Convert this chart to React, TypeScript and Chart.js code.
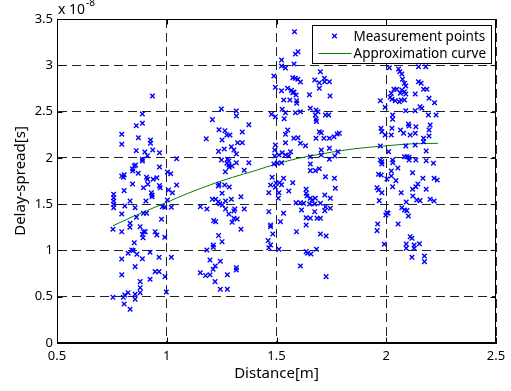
import { useEffect, useRef } from "react";
import { Chart, registerables } from "chart.js";

Chart.register(...registerables);

// ---- Axis / label data ----
const X_TICKS = [0.5, 1, 1.5, 2, 2.5];
const Y_TICKS = [0, 0.5, 1, 1.5, 2, 2.5, 3, 3.5];
const Y_EXPONENT = "-8"; // y values are shown in units of 10^-8 s
const X_TITLE = "Distance[m]";
const Y_TITLE = "Delay-spread[s]";
const POINTS_LABEL = "Measurement points";
const CURVE_LABEL = "Approximation curve";

// ---- Measurement points: [distance m, delay spread x1e-8 s] ----
const groupNear08Upper: [number, number][] = [
  [0.935, 2.668], [0.889, 2.474], [0.861, 2.348], [0.889, 2.373], [0.795, 2.254], [0.795, 2.146],
  [0.871, 2.218], [0.926, 2.193], [0.926, 2.157], [0.861, 2.078], [0.9, 2.063], [0.936, 2.085],
  [0.967, 2.056], [0.912, 2.024], [0.889, 1.984], [0.889, 1.966], [1.045, 1.991], [0.967, 1.901],
  [0.852, 1.912], [0.858, 1.923], [0.844, 1.883], [0.845, 1.858], [0.87, 1.833], [1.003, 1.847],
  [1.018, 1.829], [0.795, 1.804], [0.803, 1.79], [0.806, 1.818], [0.908, 1.79], [0.912, 1.768],
  [0.938, 1.768], [0.955, 1.786], [0.844, 1.718], [0.967, 1.7], [0.97, 1.678], [0.914, 1.714],
  [0.894, 1.678], [0.806, 1.646], [0.93, 1.624], [0.933, 1.599], [0.933, 1.581], [1.008, 1.653],
  [1.026, 1.624], [1.045, 1.707], [0.758, 1.606], [0.758, 1.57], [0.758, 1.534], [0.758, 1.498],
  [0.758, 1.462], [0.833, 1.534], [0.905, 1.534], [0.809, 1.48], [0.856, 1.462], [0.98, 1.473],
  [0.991, 1.466], [1.021, 1.466], [1.003, 1.545],
];
const groupNear08Lower: [number, number][] = [
  [0.755, 1.228], [0.795, 1.203], [0.833, 1.293], [0.832, 1.25], [0.862, 1.358], [0.879, 1.257],
  [0.894, 1.203], [0.902, 1.203], [0.889, 1.174], [0.892, 1.138], [0.947, 1.203], [0.955, 1.167],
  [0.991, 1.142], [0.976, 1.336], [0.894, 1.401], [0.908, 1.401], [0.795, 1.394], [0.852, 1.084],
  [0.841, 1.005], [0.847, 0.998], [0.824, 0.969], [0.864, 0.958], [0.795, 0.908], [0.889, 0.911],
  [0.924, 0.98], [0.965, 0.926], [1.021, 0.926], [0.856, 0.825], [0.947, 0.771], [0.965, 0.771],
  [0.992, 0.717], [0.795, 0.738], [0.924, 0.688], [0.879, 0.663], [0.879, 0.598], [0.879, 0.544],
  [0.856, 0.526], [0.824, 0.544], [0.809, 0.519], [0.802, 0.493], [0.755, 0.493], [0.856, 0.472],
  [0.998, 0.551], [0.806, 0.421], [0.833, 0.364],
];
const groupNear13: [number, number][] = [
  [1.249, 2.528], [1.317, 2.506], [1.317, 2.452], [1.208, 2.413], [1.374, 2.358], [1.238, 2.304],
  [1.265, 2.294], [1.344, 2.279], [1.274, 2.247], [1.288, 2.247], [1.18, 2.207], [1.252, 2.193],
  [1.323, 2.164], [1.344, 2.164], [1.294, 2.121], [1.306, 2.085], [1.262, 2.096], [1.236, 2.07],
  [1.317, 2.042], [1.249, 1.977], [1.277, 1.984], [1.283, 1.966], [1.274, 1.941], [1.283, 1.923],
  [1.297, 1.912], [1.317, 1.948], [1.374, 1.948], [1.267, 1.851], [1.285, 1.898], [1.353, 1.865],
  [1.238, 1.714], [1.235, 1.696], [1.264, 1.707], [1.285, 1.685], [1.252, 1.617], [1.338, 1.581],
  [1.208, 1.552], [1.223, 1.552], [1.235, 1.527], [1.242, 1.505], [1.253, 1.491], [1.268, 1.534],
  [1.294, 1.552], [1.153, 1.473], [1.183, 1.448], [1.268, 1.448], [1.31, 1.448], [1.353, 1.448],
  [1.283, 1.394], [1.306, 1.426], [1.306, 1.347], [1.321, 1.34], [1.298, 1.304], [1.214, 1.322],
  [1.223, 1.311], [1.338, 1.228], [1.236, 1.16], [1.252, 1.095], [1.212, 1.059], [1.212, 1.034],
  [1.183, 1.005], [1.197, 0.897], [1.244, 0.882], [1.221, 0.832], [1.211, 0.796], [1.317, 0.814],
  [1.317, 0.789], [1.153, 0.76], [1.177, 0.728], [1.197, 0.738], [1.276, 0.738], [1.22, 0.663],
  [1.244, 0.58], [1.276, 0.58],
];
const groupNear16Upper: [number, number][] = [
  [1.582, 3.363], [1.586, 3.122], [1.598, 3.147], [1.523, 3.057], [1.523, 2.992], [1.541, 2.97],
  [1.58, 3.014], [1.488, 2.884], [1.574, 2.866], [1.586, 2.859], [1.597, 2.848], [1.609, 2.819],
  [1.7, 2.931], [1.674, 2.841], [1.718, 2.859], [1.695, 2.812], [1.719, 2.823], [1.741, 2.823],
  [1.495, 2.762], [1.523, 2.726], [1.55, 2.751], [1.568, 2.729], [1.574, 2.704], [1.58, 2.711],
  [1.561, 2.625], [1.589, 2.679], [1.592, 2.618], [1.592, 2.589], [1.533, 2.625], [1.65, 2.682],
  [1.695, 2.751], [1.744, 2.668], [1.654, 2.535], [1.526, 2.524], [1.541, 2.488], [1.477, 2.47],
  [1.495, 2.445], [1.535, 2.423], [1.586, 2.488], [1.609, 2.499], [1.68, 2.517], [1.689, 2.499],
  [1.677, 2.463], [1.68, 2.416], [1.682, 2.394], [1.723, 2.463], [1.738, 2.463], [1.551, 2.301],
  [1.541, 2.254], [1.541, 2.164], [1.579, 2.211], [1.598, 2.218], [1.609, 2.157], [1.632, 2.131],
  [1.68, 2.211], [1.695, 2.283], [1.704, 2.272], [1.716, 2.211], [1.741, 2.211], [1.762, 2.229],
  [1.776, 2.257], [1.786, 2.265], [1.495, 2.139], [1.492, 2.085], [1.526, 2.056], [1.541, 2.031],
  [1.556, 2.02], [1.492, 2.02], [1.511, 2.031], [1.564, 2.067], [1.704, 2.085], [1.741, 2.103],
  [1.704, 2.031], [1.78, 2.067], [1.766, 2.02],
];
const groupNear16Lower: [number, number][] = [
  [1.488, 1.934], [1.503, 1.941], [1.523, 1.948], [1.654, 2.013], [1.654, 1.934], [1.654, 1.862],
  [1.677, 1.862], [1.695, 1.883], [1.741, 1.984], [1.48, 1.79], [1.532, 1.779], [1.473, 1.707],
  [1.498, 1.725], [1.514, 1.732], [1.523, 1.71], [1.574, 1.732], [1.495, 1.682], [1.465, 1.624],
  [1.511, 1.624], [1.556, 1.642], [1.508, 1.563], [1.635, 1.66], [1.635, 1.617], [1.639, 1.588],
  [1.654, 1.563], [1.677, 1.563], [1.72, 1.599], [1.745, 1.563], [1.764, 1.779], [1.723, 1.797],
  [1.768, 1.671], [1.589, 1.516], [1.609, 1.516], [1.624, 1.509], [1.651, 1.502], [1.674, 1.502],
  [1.662, 1.545], [1.7, 1.509], [1.723, 1.473], [1.72, 1.43], [1.745, 1.455], [1.614, 1.437],
  [1.674, 1.419], [1.465, 1.419], [1.532, 1.401], [1.635, 1.354], [1.654, 1.347], [1.685, 1.347],
  [1.7, 1.347], [1.518, 1.311], [1.635, 1.275], [1.473, 1.275], [1.473, 1.257], [1.591, 1.203],
  [1.483, 1.178], [1.7, 1.178], [1.726, 1.156], [1.462, 1.106], [1.473, 1.059], [1.465, 1.03],
  [1.511, 1.012], [1.635, 0.987], [1.642, 0.969], [1.657, 0.962], [1.682, 1.012], [1.609, 0.832],
  [1.726, 0.717],
];
const groupNear21Upper: [number, number][] = [
  [2.014, 2.974], [2.056, 2.96], [2.062, 2.931], [2.071, 2.906], [2.147, 2.985], [2.18, 2.985],
  [2.074, 2.848], [2.083, 2.805], [2.147, 2.823], [2.159, 2.805], [2.089, 2.776], [2.035, 2.74],
  [2.048, 2.74], [2.071, 2.733], [2.083, 2.715], [2.089, 2.69], [2.17, 2.74], [2.185, 2.74],
  [2.064, 2.697], [2.023, 2.697], [2.018, 2.654], [2.026, 2.632], [2.041, 2.618], [2.068, 2.625],
  [2.083, 2.625], [2.132, 2.69], [2.195, 2.643], [2.22, 2.596], [1.973, 2.618], [1.995, 2.546],
  [2.06, 2.607], [2.154, 2.553], [2.162, 2.535], [2.089, 2.51], [2.132, 2.51], [2.029, 2.463],
  [2.029, 2.416], [2.192, 2.463], [2.227, 2.463], [1.976, 2.319], [1.98, 2.283], [2.026, 2.319],
  [2.065, 2.301], [2.101, 2.366], [2.104, 2.344], [2.135, 2.337], [2.2, 2.355], [2.195, 2.301],
  [1.995, 2.247], [2.023, 2.247], [2.079, 2.265], [2.109, 2.247], [2.132, 2.265], [2.17, 2.211],
  [2.17, 2.175], [2.195, 2.236], [1.973, 2.128], [2.089, 2.128], [2.132, 2.139],
];
const groupNear21Lower: [number, number][] = [
  [2.011, 2.067], [2.182, 2.074], [1.973, 1.977], [1.98, 1.959], [1.98, 1.934], [2.029, 1.977],
  [2.03, 1.948], [2.083, 2.013], [2.094, 2.013], [2.104, 2.006], [2.104, 1.977], [2.135, 1.977],
  [2.182, 1.97], [2.215, 1.941], [2.053, 1.891], [2.023, 1.858], [1.965, 1.822], [1.977, 1.815],
  [2.003, 1.772], [2.023, 1.804], [2.044, 1.754], [2.12, 1.84], [2.167, 1.779], [2.218, 1.779],
  [2.232, 1.761], [1.958, 1.678], [1.965, 1.653], [1.98, 1.624], [2.029, 1.689], [2.068, 1.624],
  [2.12, 1.66], [2.135, 1.689], [2.144, 1.718], [2.182, 1.66], [2.121, 1.588], [2.139, 1.545],
  [2.154, 1.538], [2.2, 1.552], [2.218, 1.534], [1.968, 1.538], [2.091, 1.523], [2.071, 1.462],
  [2.083, 1.437], [2.094, 1.43], [2.101, 1.372], [2.003, 1.408], [2.008, 1.401], [1.998, 1.383],
  [1.961, 1.286], [1.958, 1.214], [2.054, 1.286], [2.109, 1.149], [2.117, 1.131], [1.991, 1.066],
  [2.091, 1.07], [2.091, 1.023], [2.127, 1.059], [2.127, 1.023], [2.151, 1.073], [2.117, 0.926],
  [2.174, 0.94], [2.174, 0.879],
];

// ---- Approximation curve ----
const curveDistance = [0.755, 0.85, 1.0, 1.1, 1.2, 1.3, 1.4, 1.5, 1.6, 1.7, 1.8, 1.9, 2.0, 2.1, 2.235];
const curveDelay = [1.267, 1.37, 1.52, 1.62, 1.71, 1.79, 1.86, 1.935, 1.995, 2.04, 2.08, 2.11, 2.13, 2.15, 2.157];

const BLUE = "#0000ff";
const GREEN = "#008000";
const TICK_FONT = { family: '"Noto Sans", "Liberation Sans", sans-serif', size: 13 };
const TITLE_FONT = { family: '"Noto Sans", "Liberation Sans", sans-serif', size: 15 };

const decorPlugin = {
  id: "matlabDecor",
  afterDraw(chart: any) {
    const { ctx, chartArea: a, scales } = chart;
    const xs = scales.x;
    const ys = scales.y;
    const L = Math.round(a.left) + 0.5;
    const R = Math.round(a.right) - 0.5;
    const T = Math.round(a.top) + 0.5;
    const B = Math.round(a.bottom) - 0.5;
    ctx.save();
    ctx.strokeStyle = "#000";
    ctx.lineWidth = 1;
    ctx.setLineDash([]);
    // frame
    ctx.strokeRect(L, T, R - L, B - T);
    // inward tick marks on all four sides
    const tl = 5;
    ctx.beginPath();
    X_TICKS.forEach((v) => {
      const p = Math.round(xs.getPixelForValue(v)) + 0.5;
      ctx.moveTo(p, B); ctx.lineTo(p, B - tl);
      ctx.moveTo(p, T); ctx.lineTo(p, T + tl);
    });
    Y_TICKS.forEach((v) => {
      const p = Math.round(ys.getPixelForValue(v)) + 0.5;
      ctx.moveTo(L, p); ctx.lineTo(L + tl, p);
      ctx.moveTo(R, p); ctx.lineTo(R - tl, p);
    });
    ctx.stroke();

    // exponent label
    ctx.fillStyle = "#000";
    ctx.textBaseline = "alphabetic";
    ctx.textAlign = "left";
    ctx.font = '14px "Noto Sans", sans-serif';
    const base = "x 10";
    ctx.fillText(base, a.left + 1, 14);
    const bw = ctx.measureText(base).width;
    ctx.font = '10px "Noto Sans", sans-serif';
    ctx.fillText(Y_EXPONENT, a.left + 1 + bw + 1, 6);

    // legend box
    const ds = chart.data.datasets;
    ctx.font = '13.5px "Noto Sans", sans-serif';
    const tw = Math.max(...ds.map((d: any) => ctx.measureText(d.label).width));
    const w = Math.round(41 + tw + 5);
    const h = 38;
    const bx = Math.round(a.right - 5 - w) + 0.5;
    const by = Math.round(a.top + 6) + 0.5;
    ctx.fillStyle = "#fff";
    ctx.fillRect(bx, by, w, h);
    ctx.strokeStyle = "#000";
    ctx.strokeRect(bx, by, w, h);
    const r1 = by + 10.5;
    const r2 = by + 28;
    // marker sample (rotated cross)
    ctx.strokeStyle = ds[0].borderColor;
    ctx.lineWidth = 1.4;
    const mx = bx + 22;
    const d = 2.3;
    ctx.beginPath();
    ctx.moveTo(mx - d, r1 - d); ctx.lineTo(mx + d, r1 + d);
    ctx.moveTo(mx - d, r1 + d); ctx.lineTo(mx + d, r1 - d);
    ctx.stroke();
    // line sample
    ctx.lineWidth = 1;
    ctx.strokeStyle = ds[1].borderColor;
    ctx.beginPath();
    ctx.moveTo(bx + 6, r2); ctx.lineTo(bx + 39, r2);
    ctx.stroke();
    ctx.fillStyle = "#000";
    ctx.textBaseline = "middle";
    ctx.fillText(ds[0].label, bx + 41, r1 + 1);
    ctx.fillText(ds[1].label, bx + 41, r2 + 1);
    ctx.restore();
  },
};

export default function App() {
  const ref = useRef<HTMLCanvasElement>(null);
  useEffect(() => {
    if (!ref.current) return;
    const points = [
      ...groupNear08Upper, ...groupNear08Lower, ...groupNear13,
      ...groupNear16Upper, ...groupNear16Lower, ...groupNear21Upper, ...groupNear21Lower,
    ].map(([x, y]) => ({ x, y }));
    const curve = curveDistance.map((x, i) => ({ x, y: curveDelay[i] }));
    const chart = new Chart(ref.current, {
      type: "scatter",
      data: {
        datasets: [
          {
            label: POINTS_LABEL,
            data: points,
            pointStyle: "crossRot",
            pointRadius: 3.2,
            pointBorderWidth: 1.4,
            borderWidth: 1.4,
            borderColor: BLUE,
            backgroundColor: BLUE,
            showLine: false,
          },
          {
            label: CURVE_LABEL,
            data: curve,
            showLine: true,
            pointRadius: 0,
            borderColor: GREEN,
            backgroundColor: GREEN,
            borderWidth: 1,
            cubicInterpolationMode: "monotone",
          },
        ],
      },
      options: {
        animation: false,
        responsive: false,
        devicePixelRatio: 1,
        layout: { padding: { top: 19, right: 15, left: 0, bottom: 0 } },
        plugins: { legend: { display: false }, tooltip: { enabled: false } },
        scales: {
          x: {
            type: "linear",
            min: 0.5,
            max: 2.5,
            afterBuildTicks: (s: any) => { s.ticks = X_TICKS.map((value) => ({ value })); },
            afterFit: (s: any) => { s.height = 48; },
            ticks: { font: TICK_FONT, color: "#000", padding: 5, maxRotation: 0, autoSkip: false, callback: (v: any) => String(v) },
            grid: { color: "#222", lineWidth: 1, drawTicks: false },
            border: { display: true, color: "#000", width: 1, dash: [9, 5] },
            title: { display: true, text: X_TITLE, font: TITLE_FONT, color: "#000", padding: { top: 0, bottom: 8 } },
          },
          y: {
            type: "linear",
            min: 0,
            max: 3.5,
            afterBuildTicks: (s: any) => { s.ticks = Y_TICKS.map((value) => ({ value })); },
            afterFit: (s: any) => { s.width = 57; },
            ticks: { font: TICK_FONT, color: "#000", padding: 4, autoSkip: false, callback: (v: any) => String(v) },
            grid: { color: "#222", lineWidth: 1, drawTicks: false },
            border: { display: true, color: "#000", width: 1, dash: [9, 5] },
            title: { display: true, text: Y_TITLE, font: TITLE_FONT, color: "#000", padding: { top: 12, bottom: 0 } },
          },
        },
      },
      plugins: [decorPlugin],
    } as any);
    return () => chart.destroy();
  }, []);
  return (
    <div style={{ position: "fixed", left: 0, top: 0, width: 511, height: 391, background: "#fff" }}>
      <canvas ref={ref} width={511} height={391} />
    </div>
  );
}
